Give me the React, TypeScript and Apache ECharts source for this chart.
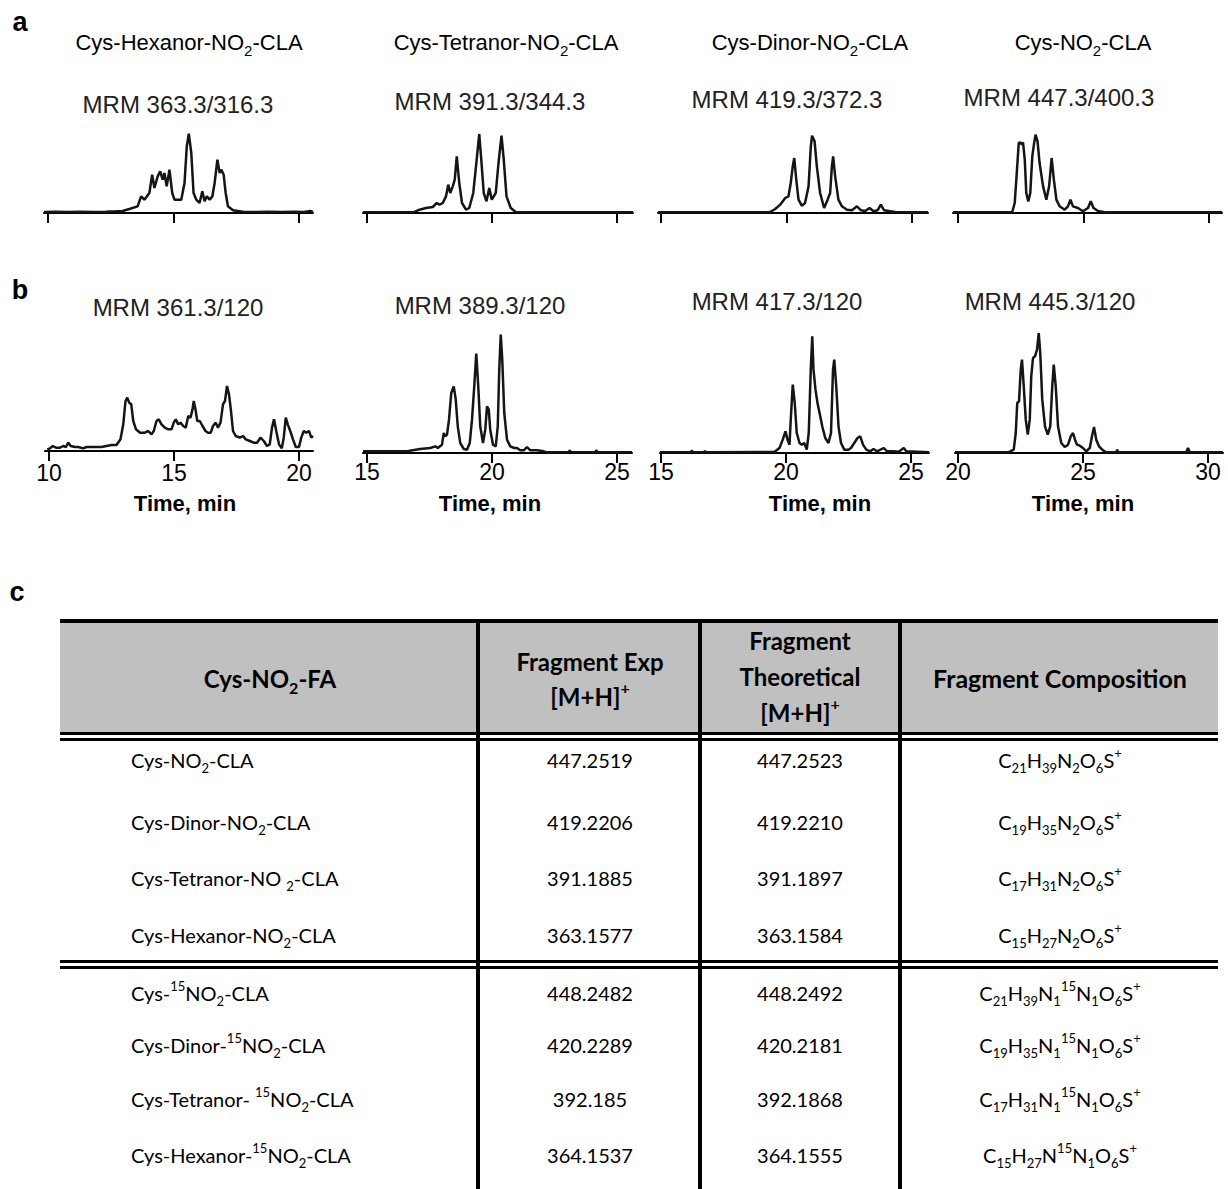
import React, { useEffect, useRef } from 'react';
import * as echarts from 'echarts';

// ---------- chromatogram data: [time (min), intensity (a.u.)] ----------
const traceA1: [number, number][] = [[9.84,3],[10.3,4],[10.8,3],[11.3,4],[11.8,3],[12.3,4],[12.7,5],[12.97,6],[13.24,12],[13.57,20],[13.71,50],[13.84,40],[14.04,60],[14.15,115],[14.24,75],[14.37,110],[14.47,125],[14.57,100],[14.64,120],[14.73,80],[14.84,130],[14.95,60],[15.04,40],[15.31,40],[15.44,90],[15.53,200],[15.61,238],[15.71,180],[15.8,60],[15.91,40],[16.04,30],[16.15,65],[16.24,35],[16.33,50],[16.44,40],[16.55,50],[16.64,90],[16.75,160],[16.84,120],[16.91,130],[17.0,115],[17.08,60],[17.17,20],[17.37,8],[17.77,4],[18.3,3],[18.8,4],[19.3,3],[19.8,4],[20.2,3],[20.45,6],[20.56,3]];
const traceA2: [number, number][] = [[14.84,2],[16.9,3],[17.1,10],[17.36,15],[17.63,18],[17.79,30],[17.9,25],[18.03,30],[18.16,50],[18.25,85],[18.33,60],[18.43,80],[18.51,100],[18.59,170],[18.69,90],[18.8,30],[18.96,10],[19.09,15],[19.25,60],[19.36,140],[19.44,200],[19.49,237],[19.57,160],[19.67,60],[19.78,35],[19.89,75],[19.99,40],[20.15,60],[20.26,150],[20.38,232],[20.47,160],[20.58,50],[20.75,15],[20.95,3],[25.64,2]];
const traceA3: [number, number][] = [[14.88,2],[19.28,2],[19.35,3],[19.55,12],[19.75,25],[19.95,45],[20.08,50],[20.17,90],[20.25,140],[20.31,165],[20.39,100],[20.48,40],[20.61,22],[20.74,30],[20.88,80],[20.97,200],[21.02,232],[21.12,215],[21.21,140],[21.34,60],[21.5,15],[21.64,40],[21.74,60],[21.81,140],[21.86,170],[21.94,110],[22.07,40],[22.21,20],[22.41,10],[22.61,8],[22.81,20],[22.97,8],[23.14,6],[23.31,15],[23.47,5],[23.63,8],[23.76,25],[23.89,8],[24.14,5],[24.34,3],[25.64,2]];
const traceA4: [number, number][] = [[19.8,2],[22.12,2],[22.16,3],[22.26,30],[22.35,130],[22.42,210],[22.48,212],[22.54,205],[22.59,212],[22.66,160],[22.72,60],[22.8,35],[22.88,60],[22.96,170],[23.03,208],[23.09,235],[23.17,215],[23.25,150],[23.39,80],[23.52,40],[23.63,80],[23.73,165],[23.82,100],[23.92,40],[24.05,20],[24.25,10],[24.38,20],[24.48,40],[24.58,20],[24.78,15],[24.98,5],[25.18,15],[25.29,35],[25.4,15],[25.58,6],[25.84,2],[30.52,2]];
const traceB1: [number, number][] = [[9.93,5],[10.04,8],[10.15,15],[10.28,10],[10.44,10],[10.57,15],[10.68,12],[10.77,25],[10.87,15],[11.04,12],[11.17,12],[11.37,8],[11.5,12],[11.7,12],[11.9,12],[12.1,12],[12.3,15],[12.5,18],[12.7,18],[12.86,35],[12.97,80],[13.06,150],[13.13,160],[13.21,145],[13.29,140],[13.37,90],[13.48,65],[13.64,55],[13.83,55],[13.97,60],[14.1,50],[14.19,60],[14.3,90],[14.39,95],[14.5,80],[14.63,70],[14.77,65],[14.9,65],[14.99,85],[15.07,95],[15.17,80],[15.26,85],[15.37,75],[15.47,70],[15.57,105],[15.66,100],[15.74,125],[15.79,150],[15.86,125],[15.93,90],[16.03,90],[16.14,75],[16.26,60],[16.36,55],[16.47,55],[16.56,75],[16.67,85],[16.76,70],[16.86,85],[16.96,140],[17.04,150],[17.12,195],[17.2,170],[17.28,120],[17.36,60],[17.47,45],[17.63,40],[17.76,45],[17.87,35],[18.03,30],[18.19,25],[18.32,25],[18.46,40],[18.59,30],[18.72,15],[18.83,20],[18.92,70],[19.0,95],[19.09,60],[19.2,20],[19.31,8],[19.39,40],[19.47,100],[19.55,80],[19.65,60],[19.76,35],[19.87,12],[20.0,12],[20.09,40],[20.19,60],[20.29,55],[20.4,60],[20.49,40],[20.56,45]];
const traceB2: [number, number][] = [[14.84,5],[16.6,5],[17.13,12],[17.53,15],[17.73,20],[17.83,15],[18.0,25],[18.07,60],[18.13,50],[18.2,55],[18.28,100],[18.37,180],[18.47,200],[18.55,160],[18.63,80],[18.73,30],[18.87,12],[19.0,10],[19.11,30],[19.2,100],[19.29,200],[19.37,298],[19.45,200],[19.53,80],[19.64,30],[19.73,70],[19.8,140],[19.87,130],[19.93,70],[20.04,25],[20.15,20],[20.23,80],[20.29,250],[20.35,355],[20.41,280],[20.49,120],[20.6,40],[20.73,20],[20.89,15],[21.0,15],[21.13,8],[21.27,8],[21.4,18],[21.53,8],[21.8,8],[22.07,5],[22.2,2],[23.07,2],[23.11,8],[23.16,2],[24.13,2],[24.17,8],[24.23,2],[25.6,2]];
const traceB3: [number, number][] = [[14.96,2],[16.2,2],[16.23,8],[16.27,2],[16.72,2],[16.76,6],[16.8,2],[19.5,3],[19.57,5],[19.74,15],[19.87,40],[19.98,65],[20.06,40],[20.14,25],[20.19,100],[20.27,205],[20.35,150],[20.43,60],[20.54,30],[20.63,25],[20.73,30],[20.83,10],[20.91,60],[20.99,250],[21.05,350],[21.1,250],[21.18,190],[21.26,150],[21.37,110],[21.45,80],[21.57,45],[21.7,30],[21.8,60],[21.88,250],[21.93,280],[22.01,200],[22.1,80],[22.2,30],[22.33,10],[22.5,10],[22.6,15],[22.86,45],[22.97,50],[23.08,25],[23.21,10],[23.37,5],[23.5,12],[23.64,5],[23.91,15],[24.04,5],[24.31,5],[24.51,4],[24.71,15],[24.81,5],[25.72,2]];
const traceB4: [number, number][] = [[19.88,2],[22.0,2],[22.09,5],[22.23,10],[22.31,60],[22.37,150],[22.44,155],[22.51,250],[22.56,280],[22.63,200],[22.71,100],[22.79,55],[22.87,100],[22.93,230],[23.0,285],[23.08,290],[23.16,310],[23.23,360],[23.29,300],[23.37,160],[23.48,80],[23.59,55],[23.69,80],[23.77,200],[23.83,265],[23.91,200],[24.0,80],[24.13,30],[24.27,18],[24.4,25],[24.51,50],[24.6,60],[24.68,40],[24.76,25],[24.87,22],[25.0,15],[25.13,5],[25.27,15],[25.36,50],[25.44,78],[25.53,40],[25.64,20],[25.8,8],[25.93,2],[26.33,2],[26.37,10],[26.41,2],[29.13,2],[29.2,15],[29.27,2],[30.6,2]];

const ticksA1 = [10, 15, 20];
const ticksA2 = [15, 20, 25];
const ticksA3 = [15, 20, 25];
const ticksA4 = [20, 25, 30];

const compoundTitles = ['Cys-Hexanor-NO_2-CLA', 'Cys-Tetranor-NO_2-CLA', 'Cys-Dinor-NO_2-CLA', 'Cys-NO_2-CLA'];
const mrmA = ['MRM 363.3/316.3', 'MRM 391.3/344.3', 'MRM 419.3/372.3', 'MRM 447.3/400.3'];
const mrmB = ['MRM 361.3/120', 'MRM 389.3/120', 'MRM 417.3/120', 'MRM 445.3/120'];
const xAxisName = 'Time, min';

// ---------- table data ----------
const tableHeader = ['Cys-NO_2-FA', 'Fragment Exp|[M+H]^+', 'Fragment|Theoretical|[M+H]^+', 'Fragment Composition'];
const compoundNames = ['Cys-NO_2-CLA', 'Cys-Dinor-NO_2-CLA', 'Cys-Tetranor-NO _2-CLA', 'Cys-Hexanor-NO_2-CLA', 'Cys-^15NO_2-CLA', 'Cys-Dinor-^15NO_2-CLA', 'Cys-Tetranor- ^15NO_2-CLA', 'Cys-Hexanor-^15NO_2-CLA'];
const fragmentExp = ['447.2519', '419.2206', '391.1885', '363.1577', '448.2482', '420.2289', '392.185', '364.1537'];
const fragmentTheo = ['447.2523', '419.2210', '391.1897', '363.1584', '448.2492', '420.2181', '392.1868', '364.1555'];
const fragmentComp = ['C_21H_39N_2O_6S^+', 'C_19H_35N_2O_6S^+', 'C_17H_31N_2O_6S^+', 'C_15H_27N_2O_6S^+', 'C_21H_39N_1^15N_1O_6S^+', 'C_19H_35N_1^15N_1O_6S^+', 'C_17H_31N_1^15N_1O_6S^+', 'C_15H_27N^15N_1O_6S^+'];

// ---------- layout ----------
const ARIAL = 'Liberation Sans, Arial, Helvetica, sans-serif';
const CAL = 'Lato, Carlito, Calibri, sans-serif';

const panels = [
  { data: traceA1, ticks: ticksA1, left: 44, right: 313, bottom: 213, height: 85, yMax: 255, min: 9.84, max: 20.56, labels: false, margin: 10 },
  { data: traceA2, ticks: ticksA2, left: 363, right: 633, bottom: 213, height: 85, yMax: 255, min: 14.84, max: 25.64, labels: false, margin: 10 },
  { data: traceA3, ticks: ticksA3, left: 658, right: 928, bottom: 213, height: 85, yMax: 255, min: 14.88, max: 25.64, labels: false, margin: 10 },
  { data: traceA4, ticks: ticksA4, left: 953, right: 1222, bottom: 213, height: 85, yMax: 255, min: 19.8, max: 30.52, labels: false, margin: 10 },
  { data: traceB1, ticks: ticksA1, left: 45, right: 313, bottom: 451, height: 122, yMax: 366, min: 9.84, max: 20.56, labels: true, margin: 10 },
  { data: traceB2, ticks: ticksA2, left: 363, right: 632, bottom: 453, height: 122, yMax: 366, min: 14.84, max: 25.6, labels: true, margin: 7 },
  { data: traceB3, ticks: ticksA3, left: 660, right: 929, bottom: 453, height: 122, yMax: 366, min: 14.96, max: 25.72, labels: true, margin: 7 },
  { data: traceB4, ticks: ticksA4, left: 955, right: 1223, bottom: 453, height: 122, yMax: 366, min: 19.88, max: 30.6, labels: true, margin: 7 },
];

function chem(s: string): string {
  let out = '';
  let buf = '';
  const flush = () => { if (buf) { out += `{n|${buf}}`; buf = ''; } };
  for (let i = 0; i < s.length; i++) {
    const c = s[i];
    if (c === '_' || c === '^') {
      let j = i + 1;
      let t = '';
      while (j < s.length && /[0-9+]/.test(s[j])) { t += s[j]; j++; }
      flush();
      out += `{${c === '_' ? 's' : 'p'}|${t}}`;
      i = j - 1;
    } else buf += c;
  }
  flush();
  return out;
}

function richSet(family: string, size: number, weight: string, lh: number) {
  const small = Math.round(size * 0.66);
  return {
    n: { fontFamily: family, fontSize: size, fontWeight: weight, fill: '#000', lineHeight: lh },
    s: { fontFamily: family, fontSize: small, fontWeight: weight, fill: '#000', lineHeight: small, verticalAlign: 'bottom' },
    p: { fontFamily: family, fontSize: small, fontWeight: weight, fill: '#000', lineHeight: small, verticalAlign: 'top' },
  };
}

function textEl(str: string, x: number, y: number, family: string, size: number, weight: string, align: string, color?: string) {
  const L = Math.round(size * 1.4);
  const rich: any = richSet(family, size, weight, L);
  if (color) { rich.n.fill = color; rich.s.fill = color; rich.p.fill = color; }
  return {
    type: 'text',
    x,
    y,
    silent: true,
    style: {
      text: chem(str),
      rich,
      align,
      textAlign: align,
      verticalAlign: 'middle',
      textVerticalAlign: 'middle',
      fill: color || '#000',
      fontFamily: family,
      fontSize: size,
      fontWeight: weight,
    },
  };
}

function rect(x: number, y: number, w: number, h: number, fill: string) {
  return { type: 'rect', silent: true, shape: { x, y, width: w, height: h }, style: { fill } };
}

function buildOption() {
  const grid: any[] = [];
  const xAxis: any[] = [];
  const yAxis: any[] = [];
  const series: any[] = [];
  panels.forEach((p, i) => {
    grid.push({ left: p.left, top: p.bottom - p.height, width: p.right - p.left, height: p.height, containLabel: false });
    xAxis.push({
      type: 'value', gridIndex: i, min: p.min, max: p.max,
      axisLine: { show: true, onZero: false, lineStyle: { color: '#000', width: 2 } },
      axisTick: { show: true, customValues: p.ticks, length: 10, inside: false, lineStyle: { color: '#000', width: 2 } },
      axisLabel: { show: p.labels, customValues: p.ticks, fontSize: 23, color: '#000', fontFamily: ARIAL, margin: p.margin },
      splitLine: { show: false },
    });
    yAxis.push({ type: 'value', gridIndex: i, min: 0, max: p.yMax, show: false });
    series.push({
      type: 'line', xAxisIndex: i, yAxisIndex: i, data: p.data, symbol: 'none', showSymbol: false,
      lineStyle: { color: '#151515', width: 2.5 }, z: 3, silent: true,
    });
  });

  const g: any[] = [];
  // panel letters
  g.push(textEl('a', 20, 22, ARIAL, 27, 'bold', 'center'));
  g.push(textEl('b', 20, 290, ARIAL, 27, 'bold', 'center'));
  g.push(textEl('c', 17, 592, ARIAL, 27, 'bold', 'center'));
  // titles
  const titleX = [189, 506, 810, 1083];
  const mrmAX = [178, 490, 787, 1059];
  const mrmAY = [104, 101, 99, 97];
  const mrmBX = [178, 480, 777, 1050];
  const mrmBY = [307, 305, 301, 301];
  const timeX = [185, 490, 820, 1083];
  compoundTitles.forEach((t, i) => g.push(textEl(t, titleX[i], 42, ARIAL, 22, 'normal', 'center')));
  mrmA.forEach((t, i) => g.push(textEl(t, mrmAX[i], mrmAY[i], ARIAL, 24, 'normal', 'center', '#222')));
  mrmB.forEach((t, i) => g.push(textEl(t, mrmBX[i], mrmBY[i], ARIAL, 24, 'normal', 'center', '#222')));
  timeX.forEach((x) => g.push(textEl(xAxisName, x, 503, ARIAL, 22, 'bold', 'center')));

  // table
  const TL = 60, TR = 1218, TW = TR - TL;
  g.push(rect(TL, 622, TW, 111, '#c0c0c0'));
  g.push(rect(TL, 619, TW, 4, '#000'));
  g.push(rect(TL, 732, TW, 3, '#000'));
  g.push(rect(TL, 738, TW, 3, '#000'));
  g.push(rect(TL, 960, TW, 3, '#000'));
  g.push(rect(TL, 966, TW, 3, '#000'));
  [478, 700, 900].forEach((x) => g.push(rect(x - 2, 619, 4, 570, '#000')));

  // header
  const HS = 24;
  g.push(textEl(tableHeader[0], 270, 678, CAL, HS, 'bold', 'center'));
  const h1 = tableHeader[1].split('|');
  g.push(textEl(h1[0], 590, 661, CAL, HS, 'bold', 'center'));
  g.push(textEl(h1[1], 590, 696, CAL, HS, 'bold', 'center'));
  const h2 = tableHeader[2].split('|');
  g.push(textEl(h2[0], 800, 640, CAL, HS, 'bold', 'center'));
  g.push(textEl(h2[1], 800, 676, CAL, HS, 'bold', 'center'));
  g.push(textEl(h2[2], 800, 712, CAL, HS, 'bold', 'center'));
  g.push(textEl(tableHeader[3], 1060, 678, CAL, 25, 'bold', 'center'));

  const rowY = [760, 822, 878, 935, 993, 1045, 1099, 1155];
  rowY.forEach((y, i) => {
    g.push(textEl(compoundNames[i], 131, y, CAL, 20, 'normal', 'left'));
    g.push(textEl(fragmentExp[i], 590, y, CAL, 20, 'normal', 'center'));
    g.push(textEl(fragmentTheo[i], 800, y, CAL, 20, 'normal', 'center'));
    g.push(textEl(fragmentComp[i], 1060, y, CAL, 20, 'normal', 'center'));
  });

  return {
    animation: false,
    backgroundColor: '#fff',
    grid, xAxis, yAxis, series,
    graphic: { elements: g },
  };
}

export default function App() {
  const ref = useRef<HTMLDivElement>(null);
  useEffect(() => {
    document.body.style.margin = '0';
    const chart = echarts.init(ref.current!, null, { renderer: 'svg' });
    chart.setOption(buildOption() as any);
    return () => chart.dispose();
  }, []);
  return <div ref={ref} style={{ width: 1228, height: 1189 }} />;
}
